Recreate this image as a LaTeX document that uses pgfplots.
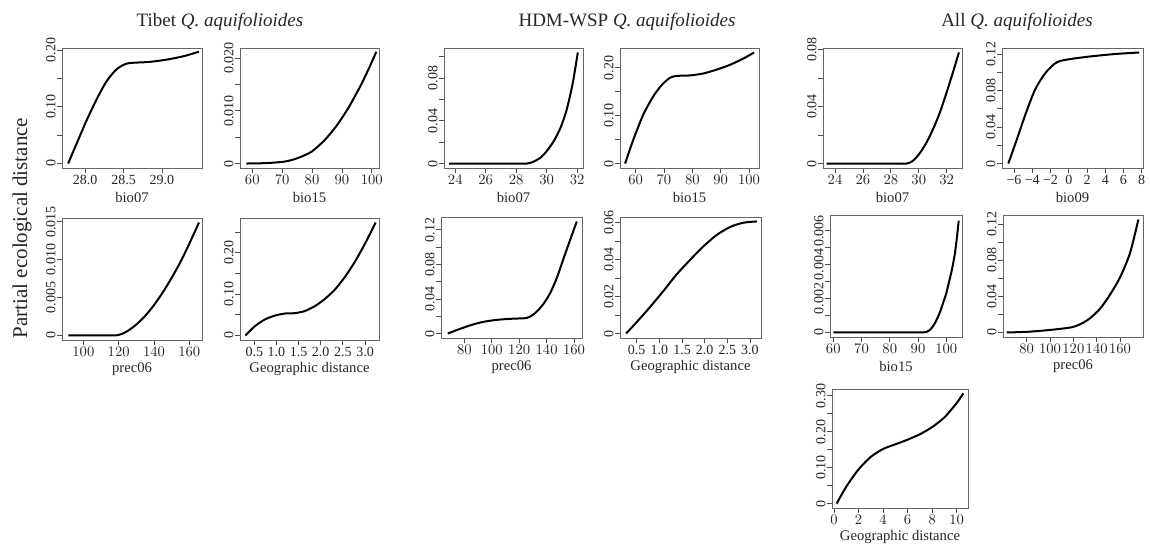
\documentclass[border=0pt]{standalone}
\usepackage{fontspec}
\setmainfont{Liberation Serif}
\usepackage{pgfplots}
\pgfplotsset{compat=1.18}
\pgfplotsset{
  rpanel/.style={
    scale only axis,
    anchor=south west,
    axis line style={draw=black!60, line width=0.7pt},
    tick align=outside,
    xtick pos=left, ytick pos=left,
    major tick length=3.5pt,
    tick style={black!70, line width=0.6pt},
    minor tick num=0,
    scaled ticks=false,
    ticklabel style={font=\fontsize{10.5}{12}\selectfont, text=black!85},
    yticklabel style={rotate=90, anchor=south, inner sep=1.2pt},
    xticklabel style={anchor=north, inner sep=1.5pt},
    xlabel style={font=\fontsize{11}{13}\selectfont, text=black!85, at={(axis description cs:0.5,0)}, anchor=center, yshift=-22pt},
    cycle list={{black, mark=none}},
    every axis plot post/.append style={black, line width=1.5pt, smooth, tension=0.45, mark=none},
  }
}
\begin{document}
\begin{tikzpicture}
\path (0,0) rectangle (862.5pt,-410.25pt);
% titles
\node[font=\fontsize{14.25}{16}\selectfont, text=black!85] at (165pt,-16.5pt) {Tibet \textit{Q. aquifolioides}};
\node[font=\fontsize{14.25}{16}\selectfont, text=black!85] at (470.25pt,-16.5pt) {HDM-WSP \textit{Q. aquifolioides}};
\node[font=\fontsize{14.25}{16}\selectfont, text=black!85] at (762.75pt,-16.5pt) {All \textit{Q. aquifolioides}};
\node[rotate=90, font=\fontsize{15.75}{18}\selectfont, text=black!85] at (16.5pt,-171pt) {Partial ecological distance};

% P1 Tibet bio07
\begin{axis}[rpanel, at={(46.5pt,-126pt)}, width=105pt, height=90pt,
  xmin=27.70, xmax=29.52, ymin=-0.008, ymax=0.2035,
  xtick={28,28.5,29}, xticklabels={28.0,28.5,29.0},
  ytick={0,0.05,0.1,0.15,0.2}, yticklabels={0,{},0.10,{},0.20},
  xlabel={bio07}]
\addplot coordinates {(27.78,0) (27.89,0.035) (28.02,0.076) (28.15,0.113) (28.28,0.145) (28.41,0.166) (28.54,0.176) (28.70,0.178) (28.84,0.179) (29.06,0.183) (29.28,0.189) (29.48,0.197)};
\end{axis}

% P2 Tibet bio15
\begin{axis}[rpanel, at={(180pt,-126pt)}, width=104.25pt, height=90pt,
  xmin=55.9, xmax=102.4, ymin=-0.00085, ymax=0.0219,
  xtick={60,70,80,90,100},
  ytick={0,0.005,0.01,0.015,0.02}, yticklabels={0,{},0.010,{},0.020},
  xlabel={bio15}]
\addplot coordinates {(58,0) (62,0.00003) (66,0.00012) (70,0.0003) (72,0.0005) (74,0.0008) (76,0.0012) (78,0.0017) (80,0.0023) (84,0.0043) (88,0.007) (92,0.0104) (96,0.0145) (99,0.018) (101.5,0.0212)};
\end{axis}

% P3 HDM bio07
\begin{axis}[rpanel, at={(333pt,-126pt)}, width=104.25pt, height=90pt,
  xmin=23.26, xmax=32.39, ymin=-0.0042, ymax=0.1082,
  xtick={24,26,28,30,32},
  ytick={0,0.02,0.04,0.06,0.08,0.10}, yticklabels={0,{},0.04,{},0.08,{}},
  xlabel={bio07}]
\addplot coordinates {(23.6,0) (25,0) (26.5,0) (28,0) (28.7,0) (29.1,0.0015) (29.6,0.0055) (30.0,0.0115) (30.45,0.0205) (30.9,0.0330) (31.3,0.0495) (31.7,0.0740) (32.05,0.104)};
\end{axis}

% P4 HDM bio15
\begin{axis}[rpanel, at={(465pt,-126pt)}, width=104.25pt, height=90pt,
  xmin=54.5, xmax=103.5, ymin=-0.0093, ymax=0.2413,
  xtick={60,70,80,90,100},
  ytick={0,0.05,0.1,0.15,0.2}, yticklabels={0,{},0.10,{},0.20},
  xlabel={bio15}]
\addplot coordinates {(56.3,0) (59.2,0.05) (62.7,0.102) (66.2,0.14) (69.2,0.164) (72.1,0.179) (74.5,0.183) (79.1,0.184) (83.8,0.188) (88.5,0.196) (93.2,0.206) (97.9,0.219) (101.8,0.232)};
\end{axis}

% P5 All bio07
\begin{axis}[rpanel, at={(617.25pt,-126pt)}, width=104.25pt, height=90pt,
  xmin=23.14, xmax=33.1, ymin=-0.0031, ymax=0.0811,
  xtick={24,26,28,30,32},
  ytick={0,0.02,0.04,0.06,0.08}, yticklabels={0,{},0.04,{},0.08},
  xlabel={bio07}]
\addplot coordinates {(23.4,0) (25,0) (26.5,0) (28,0) (29.13,0) (29.61,0.0022) (30.09,0.0075) (30.57,0.0150) (31.04,0.0245) (31.52,0.0360) (32.0,0.0500) (32.48,0.0650) (32.88,0.078)};
\end{axis}

% P6 All bio09
\begin{axis}[rpanel, at={(751.5pt,-126pt)}, width=105.75pt, height=90pt,
  xmin=-7.32, xmax=8.14, ymin=-0.0049, ymax=0.1266,
  xtick={-6,-4,-2,0,2,4,6,8}, xticklabels={−6,−4,−2,0,2,4,6,8},
  ytick={0,0.02,0.04,0.06,0.08,0.10,0.12}, yticklabels={0,{},0.04,{},0.08,{},0.12},
  xlabel={bio09}]
\addplot coordinates {(-6.63,0) (-5.71,0.0259) (-4.80,0.0525) (-3.70,0.0809) (-2.60,0.0987) (-1.60,0.1090) (-0.9,0.1125) (0.5,0.1150) (2.51,0.1175) (5.07,0.1200) (7.73,0.1217)};
\end{axis}

% P7 Tibet prec06
\begin{axis}[rpanel, at={(46.5pt,-255pt)}, width=105pt, height=91.5pt,
  xmin=87.9, xmax=167.2, ymin=-0.0006, ymax=0.0155,
  xtick={100,120,140,160},
  ytick={0,0.005,0.01,0.015}, yticklabels={0,0.005,0.010,0.015},
  xlabel={prec06}]
\addplot coordinates {(91.5,0) (100,0) (108,0) (114,0) (118,0) (120,0.00007) (122,0.00022) (125,0.00058) (130,0.00144) (135,0.00258) (140,0.0040) (145,0.00569) (150,0.0076) (155,0.0097) (160,0.0121) (165.5,0.0149)};
\end{axis}

% P8 Tibet geo
\begin{axis}[rpanel, at={(180pt,-255pt)}, width=104.25pt, height=91.5pt,
  xmin=0.177, xmax=3.316, ymin=-0.011, ymax=0.284,
  xtick={0.5,1,1.5,2,2.5,3}, xticklabels={0.5,1.0,1.5,2.0,2.5,3.0},
  ytick={0,0.05,0.1,0.15,0.2,0.25}, yticklabels={0,{},0.10,{},0.20,{}},
  xlabel={Geographic distance}]
\addplot coordinates {(0.30,0) (0.515,0.0226) (0.74,0.0387) (0.966,0.048) (1.19,0.053) (1.42,0.054) (1.64,0.059) (1.87,0.071) (2.09,0.088) (2.32,0.111) (2.55,0.142) (2.77,0.178) (3.0,0.222) (3.24,0.273)};
\end{axis}

% P9 HDM prec06
\begin{axis}[rpanel, at={(330.75pt,-253.5pt)}, width=105.75pt, height=90.75pt,
  xmin=63.0, xmax=165.8, ymin=-0.0052, ymax=0.1348,
  xtick={80,100,120,140,160},
  ytick={0,0.02,0.04,0.06,0.08,0.10,0.12}, yticklabels={0,{},0.04,{},0.08,{},0.12},
  xlabel={prec06}]
\addplot coordinates {(67.9,0) (74.4,0.0039) (84.1,0.0094) (93.9,0.0135) (103.7,0.0158) (113.4,0.0170) (120,0.0174) (125.6,0.0180) (130,0.0215) (133.5,0.0265) (137.8,0.0345) (142.7,0.0470) (147.6,0.0650) (152.4,0.0870) (157.3,0.1090) (162.0,0.1296)};
\end{axis}

% P10 HDM geo
\begin{axis}[rpanel, at={(465pt,-253.5pt)}, width=105.75pt, height=90.75pt,
  xmin=0.131, xmax=3.243, ymin=-0.0024, ymax=0.0629,
  xtick={0.5,1,1.5,2,2.5,3}, xticklabels={0.5,1.0,1.5,2.0,2.5,3.0},
  ytick={0,0.01,0.02,0.03,0.04,0.05,0.06}, yticklabels={0,{},0.02,{},0.04,{},0.06},
  xlabel={Geographic distance}]
\addplot coordinates {(0.265,0) (0.5,0.0062) (0.79,0.0142) (1.09,0.0230) (1.38,0.0319) (1.68,0.0398) (1.97,0.0470) (2.26,0.0531) (2.56,0.0575) (2.85,0.0598) (3.15,0.0605)};
\end{axis}

% P11 All bio15
\begin{axis}[rpanel, at={(622.5pt,-252.75pt)}, width=99pt, height=91.5pt,
  xmin=58.84, xmax=105.57, ymin=-0.00027, ymax=0.00693,
  xtick={60,70,80,90,100},
  ytick={0,0.001,0.002,0.003,0.004,0.005,0.006}, yticklabels={0,{},0.002,{},0.004,{},0.006},
  xlabel={bio15}]
\addplot coordinates {(60,0) (70,0) (80,0) (88,0) (91.9,0) (93,0.00003) (94,0.00012) (95,0.0003) (96,0.00055) (97,0.0009) (98,0.0013) (99,0.0018) (100,0.0023) (101,0.0030) (102,0.0037) (103,0.0046) (103.7,0.0055) (104.4,0.0066)};
\end{axis}

% P12 All prec06
\begin{axis}[rpanel, at={(752.25pt,-252.75pt)}, width=105pt, height=91.5pt,
  xmin=59.7, xmax=179.7, ymin=-0.005, ymax=0.13,
  xtick={80,100,120,140,160},
  ytick={0,0.02,0.04,0.06,0.08,0.10,0.12}, yticklabels={0,{},0.04,{},0.08,{},0.12},
  xlabel={prec06}]
\addplot coordinates {(62.9,0) (80,0.0007) (95,0.0022) (110,0.0042) (120,0.0062) (128,0.0105) (135,0.0165) (143,0.0265) (151,0.0410) (160,0.0610) (168.6,0.0880) (175.7,0.125)};
\end{axis}

% P13 All geo
\begin{axis}[rpanel, at={(624pt,-381pt)}, width=102pt, height=89.25pt,
  xmin=-0.16, xmax=10.92, ymin=-0.0123, ymax=0.319,
  xtick={0,2,4,6,8,10},
  ytick={0,0.05,0.1,0.15,0.2,0.25,0.3}, yticklabels={0,{},0.10,{},0.20,{},0.30},
  xlabel={Geographic distance}]
\addplot coordinates {(0.22,0) (1,0.047) (2,0.095) (3,0.130) (4,0.152) (5,0.165) (6,0.178) (7,0.193) (8,0.213) (9,0.240) (10,0.280) (10.54,0.307)};
\end{axis}
\end{tikzpicture}
\end{document}
